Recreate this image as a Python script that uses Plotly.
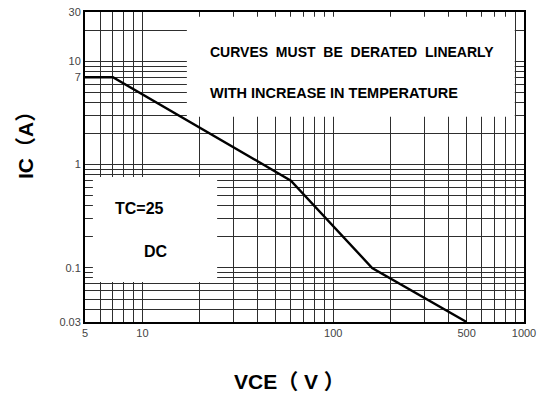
import plotly.graph_objects as go
import math

# Data (safe operating area curve)
vce = [5, 7, 60, 160, 500]
ic = [7, 7, 0.7, 0.1, 0.03]

# Axis tick labels
x_label_vals = [5, 10, 100, 500, 1000]
y_label_vals = [0.03, 0.1, 1, 7, 10, 30]
y_label_text = ["0.03", "0.1", "1", "7", "10", "30"]

# grid positions (log-decade digits)
x_grid = [d * 10 ** e for e in range(0, 4) for d in range(1, 10) if 5 <= d * 10 ** e <= 1000]
y_grid = [round(d * 10 ** e, 4) for e in range(-2, 2) for d in range(1, 10) if 0.03 <= d * 10 ** e <= 30]

def fmt(v):
    return ("%g" % v)

x_tickvals = sorted(set(x_grid + x_label_vals))
x_ticktext = [fmt(v) if v in x_label_vals else "" for v in x_tickvals]
y_tickvals = sorted(set(y_grid + y_label_vals))
y_ticktext = [y_label_text[y_label_vals.index(v)] if v in y_label_vals else "" for v in y_tickvals]

FONT = "Liberation Sans, Arial, Noto Sans CJK SC, sans-serif"

fig = go.Figure()
fig.add_trace(go.Scatter(x=vce, y=ic, mode="lines",
                         line=dict(color="black", width=2.4), showlegend=False))

fig.update_layout(
    width=549, height=405,
    margin=dict(l=85, r=25, t=12, b=83),
    paper_bgcolor="white", plot_bgcolor="white",
    font=dict(family=FONT, color="#333333", size=11),
    xaxis=dict(type="log", range=[math.log10(5), math.log10(1000)],
               tickvals=x_tickvals, ticktext=x_ticktext, ticks="", automargin=False,
               showgrid=True, gridcolor="#2e2e2e", gridwidth=1,
               showline=True, linecolor="black", linewidth=2, mirror=True,
               zeroline=False, tickfont=dict(size=11, color="#444444")),
    yaxis=dict(type="log", range=[math.log10(0.03), math.log10(30)],
               tickvals=y_tickvals, ticktext=y_ticktext, ticks="", automargin=False,
               showgrid=True, gridcolor="#2e2e2e", gridwidth=1,
               showline=True, linecolor="black", linewidth=2, mirror=True,
               zeroline=False, tickfont=dict(size=11, color="#444444")),
)

# white text boxes covering the grid
fig.add_shape(type="rect", xref="paper", yref="paper", x0=0.232, x1=0.979, y0=0.662, y1=0.985,
              fillcolor="white", line=dict(width=0), layer="above")
fig.add_shape(type="rect", xref="paper", yref="paper", x0=0.018, x1=0.301, y0=0.129, y1=0.468,
              fillcolor="white", line=dict(width=0), layer="above")

bold = dict(family=FONT, color="black")
fig.add_annotation(xref="paper", yref="paper", x=0.280, y=0.871, xanchor="left", yanchor="middle",
                   text="<b>CURVES  MUST  BE  DERATED  LINEARLY</b>", showarrow=False,
                   font=dict(size=14, **bold))
fig.add_annotation(xref="paper", yref="paper", x=0.280, y=0.739, xanchor="left", yanchor="middle",
                   text="<b>WITH INCREASE IN TEMPERATURE</b>", showarrow=False,
                   font=dict(size=14.5, **bold))
fig.add_annotation(xref="paper", yref="paper", x=0.064, y=0.365, xanchor="left", yanchor="middle",
                   text="<b>TC=25</b>", showarrow=False, font=dict(size=16, **bold))
fig.add_annotation(xref="paper", yref="paper", x=0.130, y=0.226, xanchor="left", yanchor="middle",
                   text="<b>DC</b>", showarrow=False, font=dict(size=16, **bold))

# axis titles
fig.add_annotation(xref="paper", yref="paper", x=(232 - 85) / 439, y=(322 - 381) / 310,
                   xanchor="left", yanchor="middle", text="<b>VCE（ V ）</b>", showarrow=False,
                   font=dict(size=21, **bold))
fig.add_annotation(xref="paper", yref="paper", x=(25 - 85) / 439, y=(322 - 140) / 310,
                   xanchor="center", yanchor="middle", text="<b>IC（A）</b>", showarrow=False,
                   textangle=-90, font=dict(size=21, **bold))

fig.write_html("out.html", config={"displayModeBar": False},
               post_script="document.body.style.margin='0';document.body.style.overflow='hidden';")
